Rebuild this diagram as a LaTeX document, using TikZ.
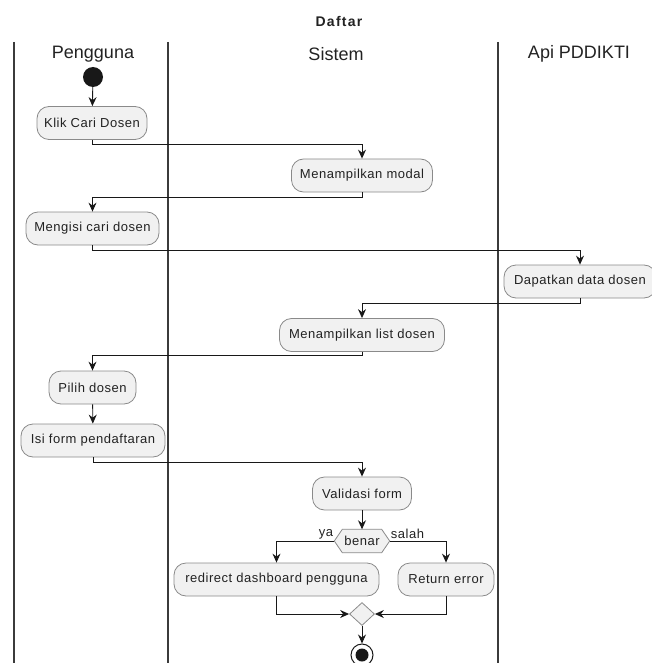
\documentclass[tikz,border=0pt]{standalone}
\usepackage{fontspec}
\setmainfont{Liberation Sans}
\usetikzlibrary{arrows.meta,shapes.geometric}
\definecolor{ink}{HTML}{181818}
\definecolor{boxfill}{HTML}{F1F1F1}
\definecolor{boxline}{HTML}{8A8A8A}
\definecolor{txt}{HTML}{222222}
\tikzset{
  act/.style={draw=boxline, line width=0.8pt, fill=boxfill, rounded corners=12pt,
    minimum height=33pt, inner sep=0pt, font=\fontsize{13}{15}\selectfont\addfontfeature{LetterSpace=4}, text=txt},
  flow/.style={draw=ink, line width=0.9pt, -{Stealth[length=9pt,width=8pt,inset=3pt]}},
  lane/.style={draw=ink!85, line width=1.1pt},
  lanehead/.style={font=\fontsize{18}{20}\selectfont, text=txt},
  guard/.style={font=\fontsize{13}{15}\selectfont\addfontfeature{LetterSpace=4}, text=txt, inner sep=1pt},
}
\begin{document}
\begin{tikzpicture}[x=1pt,y=-1pt]
\useasboundingbox (0,0) rectangle (651,663);

% title and swimlanes
\node[font=\bfseries\fontsize{14}{16}\selectfont\addfontfeature{LetterSpace=9}, text=txt] (title) at (339,21) {Daftar};
\draw[lane] (14,42) -- (14,663);
\draw[lane] (168,42) -- (168,663);
\draw[lane] (498,42) -- (498,663);
\node[lanehead] (hUser) at (93,54) {Pengguna};
\node[lanehead] (hSys) at (336,54) {Sistem};
\node[lanehead] (hApi) at (579,54) {Api PDDIKTI};

% activities
\node[circle, fill=ink, minimum size=20pt, inner sep=0pt] (start) at (93,77) {};
\node[act, minimum width=110pt] (klik) at (92,123) {Klik Cari Dosen};
\node[act, minimum width=141pt] (modal) at (362,175.5) {Menampilkan modal};
\node[act, minimum width=133pt] (isicari) at (92.5,228.5) {Mengisi cari dosen};
\node[act, minimum width=152pt] (dapat) at (580,281.5) {Dapatkan data dosen};
\node[act, minimum width=165pt] (list) at (362,335) {Menampilkan list dosen};
\node[act, minimum width=87pt] (pilih) at (92.5,387.5) {Pilih dosen};
\node[act, minimum width=144pt] (form) at (93,440.5) {Isi form pendaftaran};
\node[act, minimum width=99pt] (valid) at (362,493.5) {Validasi form};

% decision
\node[minimum width=55pt, minimum height=23pt, inner sep=0pt] (benar) at (362,541) {};
\filldraw[fill=boxfill, draw=boxline, line width=0.8pt]
  (benar.west) -- ([xshift=8pt]benar.north west) -- ([xshift=-8pt]benar.north east)
  -- (benar.east) -- ([xshift=-8pt]benar.south east) -- ([xshift=8pt]benar.south west) -- cycle;
\node[guard] at (benar) {benar};

\node[act, minimum width=205pt] (redir) at (276.5,579.5) {redirect dashboard pengguna};
\node[act, minimum width=96pt] (err) at (446,579.5) {Return error};

% merge and end
\node[diamond, draw=boxline, fill=boxfill, line width=0.8pt, minimum width=25pt, minimum height=23pt, inner sep=0pt] (merge) at (362,614) {};
\node[circle, draw=ink, line width=1pt, fill=white, minimum size=22pt, inner sep=0pt] (end) at (362,655) {};
\node[circle, fill=ink, minimum size=13pt, inner sep=0pt] (endDot) at (end) {};

% flows
\draw[flow] (start) -- (klik);
\draw[flow] (klik.south) -- ++(0,5) -| (modal.north);
\draw[flow] (modal.south) -- ++(0,5) -| (isicari.north);
\draw[flow] (isicari.south) -- ++(0,5) -| (dapat.north);
\draw[flow] (dapat.south) -- ++(0,5) -| (list.north);
\draw[flow] (list.south) -- ++(0,4) -| (pilih.north);
\draw[flow] (pilih) -- (form);
\draw[flow] (form.south) -- ++(0,5) -| (valid.north);
\draw[flow] (valid) -- (benar.north);
\draw[flow] (benar.west) -| (redir.north);
\draw[flow] (benar.east) -| (err.north);
\node[guard, anchor=south east] (ya) at ([yshift=1pt]benar.west) {ya};
\node[guard, anchor=south west] (salah) at ([yshift=1pt]benar.east) {salah};
\draw[flow] (redir.south) |- (merge.west);
\draw[flow] (err.south) |- (merge.east);
\draw[flow] (merge) -- (end);
\end{tikzpicture}
\end{document}
